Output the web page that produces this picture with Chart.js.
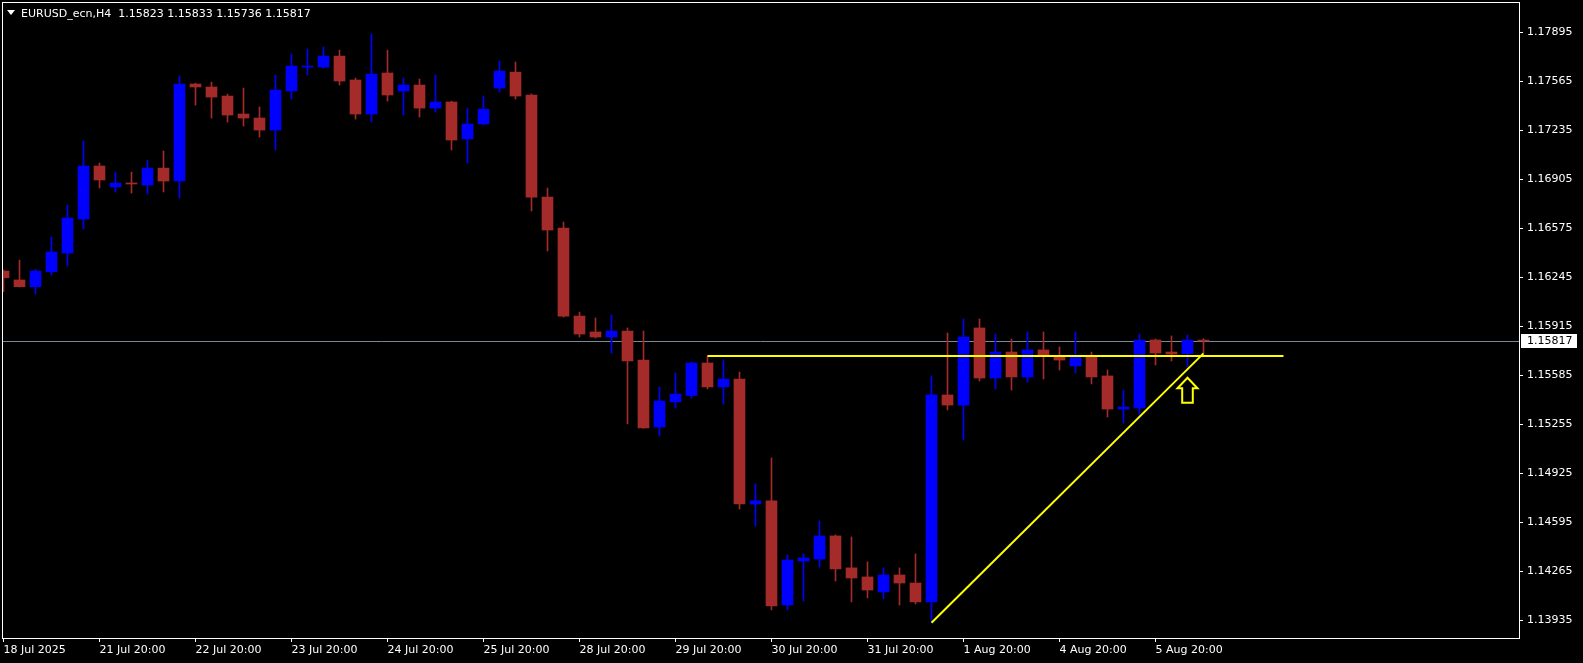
<!DOCTYPE html>
<html><head><meta charset="utf-8">
<script src="https://cdn.jsdelivr.net/npm/chart.js@4.4.1/dist/chart.umd.min.js"></script>
<style>html,body{margin:0;padding:0;background:#000;overflow:hidden}#wrap{width:1583px;height:663px;position:relative}</style>
</head><body><div id="wrap"><canvas id="c" width="1583" height="663"></canvas></div>
<script>
const symbolTitle = 'EURUSD_ecn,H4';

const opens = [1.16288,1.16228,1.16183,1.16284,1.16409,1.16638,1.16995,1.16854,1.16880,1.16867,
1.16981,1.16894,1.17547,1.17527,1.17466,1.17345,1.17318,1.17237,1.17500,1.17661,
1.17661,1.17735,1.17574,1.17345,1.17621,1.17500,1.17540,1.17385,1.17426,1.17177,
1.17278,1.17520,1.17627,1.17473,1.16786,1.16578,1.15985,1.15878,1.15844,1.15884,
1.15689,1.15238,1.15407,1.15450,1.15669,1.15508,1.15561,1.14720,1.14741,1.14040,
1.14336,1.14350,1.14505,1.14290,1.14229,1.14128,1.14242,1.14188,1.14061,1.15454,
1.15386,1.15905,1.15568,1.15743,1.15575,1.15757,1.15716,1.15649,1.15716,1.15582,
1.15359,1.15366,1.15824,1.15743,1.15730,1.15823];
const highs = [1.16295,1.16362,1.16300,1.16517,1.16732,1.17163,1.17015,1.16954,1.16954,1.17035,
1.17096,1.17601,1.17553,1.17560,1.17479,1.17520,1.17392,1.17607,1.17749,1.17782,
1.17796,1.17775,1.17587,1.17883,1.17775,1.17587,1.17580,1.17607,1.17432,1.17385,
1.17466,1.17702,1.17695,1.17480,1.16847,1.16618,1.16012,1.15972,1.15992,1.15905,
1.15884,1.15508,1.15602,1.15676,1.15716,1.15689,1.15608,1.14855,1.15030,1.14377,
1.14384,1.14606,1.14512,1.14498,1.14330,1.14290,1.14290,1.14384,1.15582,1.15871,
1.15965,1.15965,1.15864,1.15831,1.15878,1.15878,1.15777,1.15878,1.15743,1.15622,
1.15487,1.15864,1.15831,1.15851,1.15857,1.15833];
const lows = [1.16149,1.16180,1.16133,1.16261,1.16322,1.16571,1.16847,1.16820,1.16813,1.16806,
1.16820,1.16779,1.17405,1.17318,1.17291,1.17264,1.17190,1.17103,1.17446,1.17607,
1.17654,1.17540,1.17311,1.17291,1.17432,1.17338,1.17325,1.17358,1.17103,1.17015,
1.17271,1.17493,1.17446,1.16692,1.16423,1.15978,1.15844,1.15837,1.15736,1.15259,
1.15230,1.15178,1.15366,1.15433,1.15494,1.15393,1.14686,1.14572,1.14007,1.14007,
1.14067,1.14296,1.14202,1.14061,1.14088,1.14081,1.14040,1.14047,1.13928,1.15353,
1.15151,1.15548,1.15494,1.15487,1.15541,1.15561,1.15622,1.15602,1.15528,1.15306,
1.15265,1.15306,1.15656,1.15683,1.15642,1.15736];
const closes = [1.16243,1.16183,1.16288,1.16416,1.16645,1.16995,1.16901,1.16880,1.16874,1.16981,
1.16894,1.17547,1.17527,1.17459,1.17338,1.17318,1.17237,1.17506,1.17668,1.17668,
1.17735,1.17567,1.17345,1.17614,1.17473,1.17540,1.17385,1.17426,1.17170,1.17278,
1.17378,1.17634,1.17466,1.16786,1.16564,1.15985,1.15864,1.15844,1.15884,1.15683,
1.15232,1.15413,1.15460,1.15669,1.15508,1.15561,1.14720,1.14741,1.14034,1.14343,
1.14357,1.14505,1.14283,1.14222,1.14141,1.14242,1.14188,1.14061,1.15454,1.15386,
1.15844,1.15568,1.15743,1.15575,1.15757,1.15723,1.15689,1.15716,1.15575,1.15359,
1.15373,1.15824,1.15736,1.15730,1.15824,1.15817];

const timeTickIndex = [0,6,12,18,24,30,36,42,48,54,60,66,72];
const timeTickText = ['18 Jul 2025','21 Jul 20:00','22 Jul 20:00','23 Jul 20:00','24 Jul 20:00','25 Jul 20:00',
  '28 Jul 20:00','29 Jul 20:00','30 Jul 20:00','31 Jul 20:00','1 Aug 20:00','4 Aug 20:00','5 Aug 20:00'];
const priceTicks = [1.13935,1.14265,1.14595,1.14925,1.15255,1.15585,1.15915,1.16245,1.16575,1.16905,1.17235,1.17565,1.17895];

const levelPrice = 1.15716, levelFrom = 44, levelTo = 80;
const trendStart = [58, 1.13921], trendEnd = [75, 1.15734];
const arrowAt = [74, 1.15570];

const viewX = [-0.09375, 94.71875];
const viewY = [1.13818, 1.18099];

const UP = '#0000FF', DOWN = '#A52A2A', YEL = '#FFFF00';
const FONT = "'DejaVu Sans', sans-serif";
Chart.defaults.font.family = FONT;
Chart.defaults.font.size = 11;
Chart.defaults.color = '#FFFFFF';

const candleColors = opens.map((o, i) => closes[i] >= o ? UP : DOWN);
const last = opens.length - 1;

const overlay = {
  id: 'overlay',
  beforeDatasetsDraw(chart) {
    const {ctx, chartArea: a, scales: {y}} = chart;
    const py = Math.round(y.getPixelForValue(closes[last])) + 0.5;
    ctx.save();
    ctx.strokeStyle = '#778899'; ctx.lineWidth = 1;
    ctx.beginPath(); ctx.moveTo(a.left, py); ctx.lineTo(a.right, py); ctx.stroke();
    ctx.restore();
  },
  afterDraw(chart) {
    const {ctx, chartArea: a, scales: {x, y}} = chart;
    ctx.save();
    ctx.strokeStyle = '#FFFFFF'; ctx.lineWidth = 1;
    ctx.strokeRect(a.left + 0.5, a.top + 0.5, a.right - a.left, a.bottom - a.top);
    ctx.fillStyle = '#FFFFFF';
    ctx.beginPath(); ctx.moveTo(7, 10); ctx.lineTo(15, 10); ctx.lineTo(11, 15); ctx.closePath(); ctx.fill();
    ctx.font = '11px ' + FONT; ctx.textBaseline = 'alphabetic'; ctx.textAlign = 'left';
    const f = v => v.toFixed(5);
    ctx.fillText(symbolTitle + '  ' + f(opens[last]) + ' ' + f(highs[last]) + ' ' + f(lows[last]) + ' ' + f(closes[last]), 21, 17);
    const py = Math.round(y.getPixelForValue(closes[last]));
    ctx.fillStyle = '#FFFFFF';
    ctx.fillRect(a.right + 2, py - 7, 56, 14);
    ctx.fillStyle = '#000000'; ctx.textBaseline = 'middle';
    ctx.fillText(f(closes[last]), a.right + 8, py + 0.5);
    const ax = x.getPixelForValue(arrowAt[0]), ay = y.getPixelForValue(arrowAt[1]);
    ctx.strokeStyle = YEL; ctx.lineWidth = 2; ctx.lineJoin = 'miter';
    ctx.beginPath();
    ctx.moveTo(ax, ay);
    ctx.lineTo(ax + 10, ay + 10.5);
    ctx.lineTo(ax + 5.3, ay + 10.5);
    ctx.lineTo(ax + 5.3, ay + 25);
    ctx.lineTo(ax - 5.3, ay + 25);
    ctx.lineTo(ax - 5.3, ay + 10.5);
    ctx.lineTo(ax - 10, ay + 10.5);
    ctx.closePath(); ctx.stroke();
    ctx.restore();
  }
};

new Chart(document.getElementById('c'), {
  type: 'bar',
  data: {
    datasets: [
      { type: 'line', data: [{x: levelFrom, y: levelPrice}, {x: levelTo, y: levelPrice}],
        borderColor: YEL, borderWidth: 2, pointRadius: 0, order: 0 },
      { type: 'line', data: [{x: trendStart[0], y: trendStart[1]}, {x: trendEnd[0], y: trendEnd[1]}],
        borderColor: YEL, borderWidth: 2, pointRadius: 0, order: 0 },
      { label: 'body', data: opens.map((o, i) => ({x: i, y: [o, closes[i]]})),
        backgroundColor: candleColors, barThickness: 11, grouped: false, minBarLength: 1, borderWidth: 0, order: 1 },
      { label: 'wick', data: lows.map((l, i) => ({x: i, y: [l, highs[i]]})),
        backgroundColor: candleColors, barThickness: 1, grouped: false, borderWidth: 0, order: 2 }
    ]
  },
  options: {
    responsive: false, animation: false, devicePixelRatio: 1,
    layout: {padding: {left: 2, top: 2, right: 0, bottom: 0}},
    plugins: {legend: {display: false}, tooltip: {enabled: false}},
    scales: {
      x: {
        type: 'linear', min: viewX[0], max: viewX[1], offset: false, bounds: 'data',
        grid: {display: true, offset: false, drawOnChartArea: false, drawTicks: true, tickLength: 4, color: '#FFFFFF'},
        border: {display: false},
        ticks: {autoSkip: false, maxRotation: 0, minRotation: 0, align: 'start', padding: 2, color: '#FFFFFF',
          callback: v => timeTickText[timeTickIndex.indexOf(v)] ?? ''},
        afterBuildTicks: s => { s.ticks = timeTickIndex.map(v => ({value: v})); },
        afterFit: s => { s.height = 25; s.paddingLeft = 0; s.paddingRight = 0; s.paddingTop = 0; s.paddingBottom = 0; }
      },
      y: {
        type: 'linear', position: 'right', min: viewY[0], max: viewY[1], beginAtZero: false, bounds: 'data',
        grid: {display: true, drawOnChartArea: false, drawTicks: true, tickLength: 4, color: '#FFFFFF'},
        border: {display: false},
        ticks: {padding: 4, color: '#FFFFFF', callback: v => v.toFixed(5)},
        afterBuildTicks: s => { s.ticks = priceTicks.map(v => ({value: v})); },
        afterFit: s => { s.width = 64; s.paddingTop = 0; s.paddingBottom = 0; s.paddingLeft = 0; s.paddingRight = 0; }
      }
    }
  },
  plugins: [overlay]
});
</script>
</body></html>
